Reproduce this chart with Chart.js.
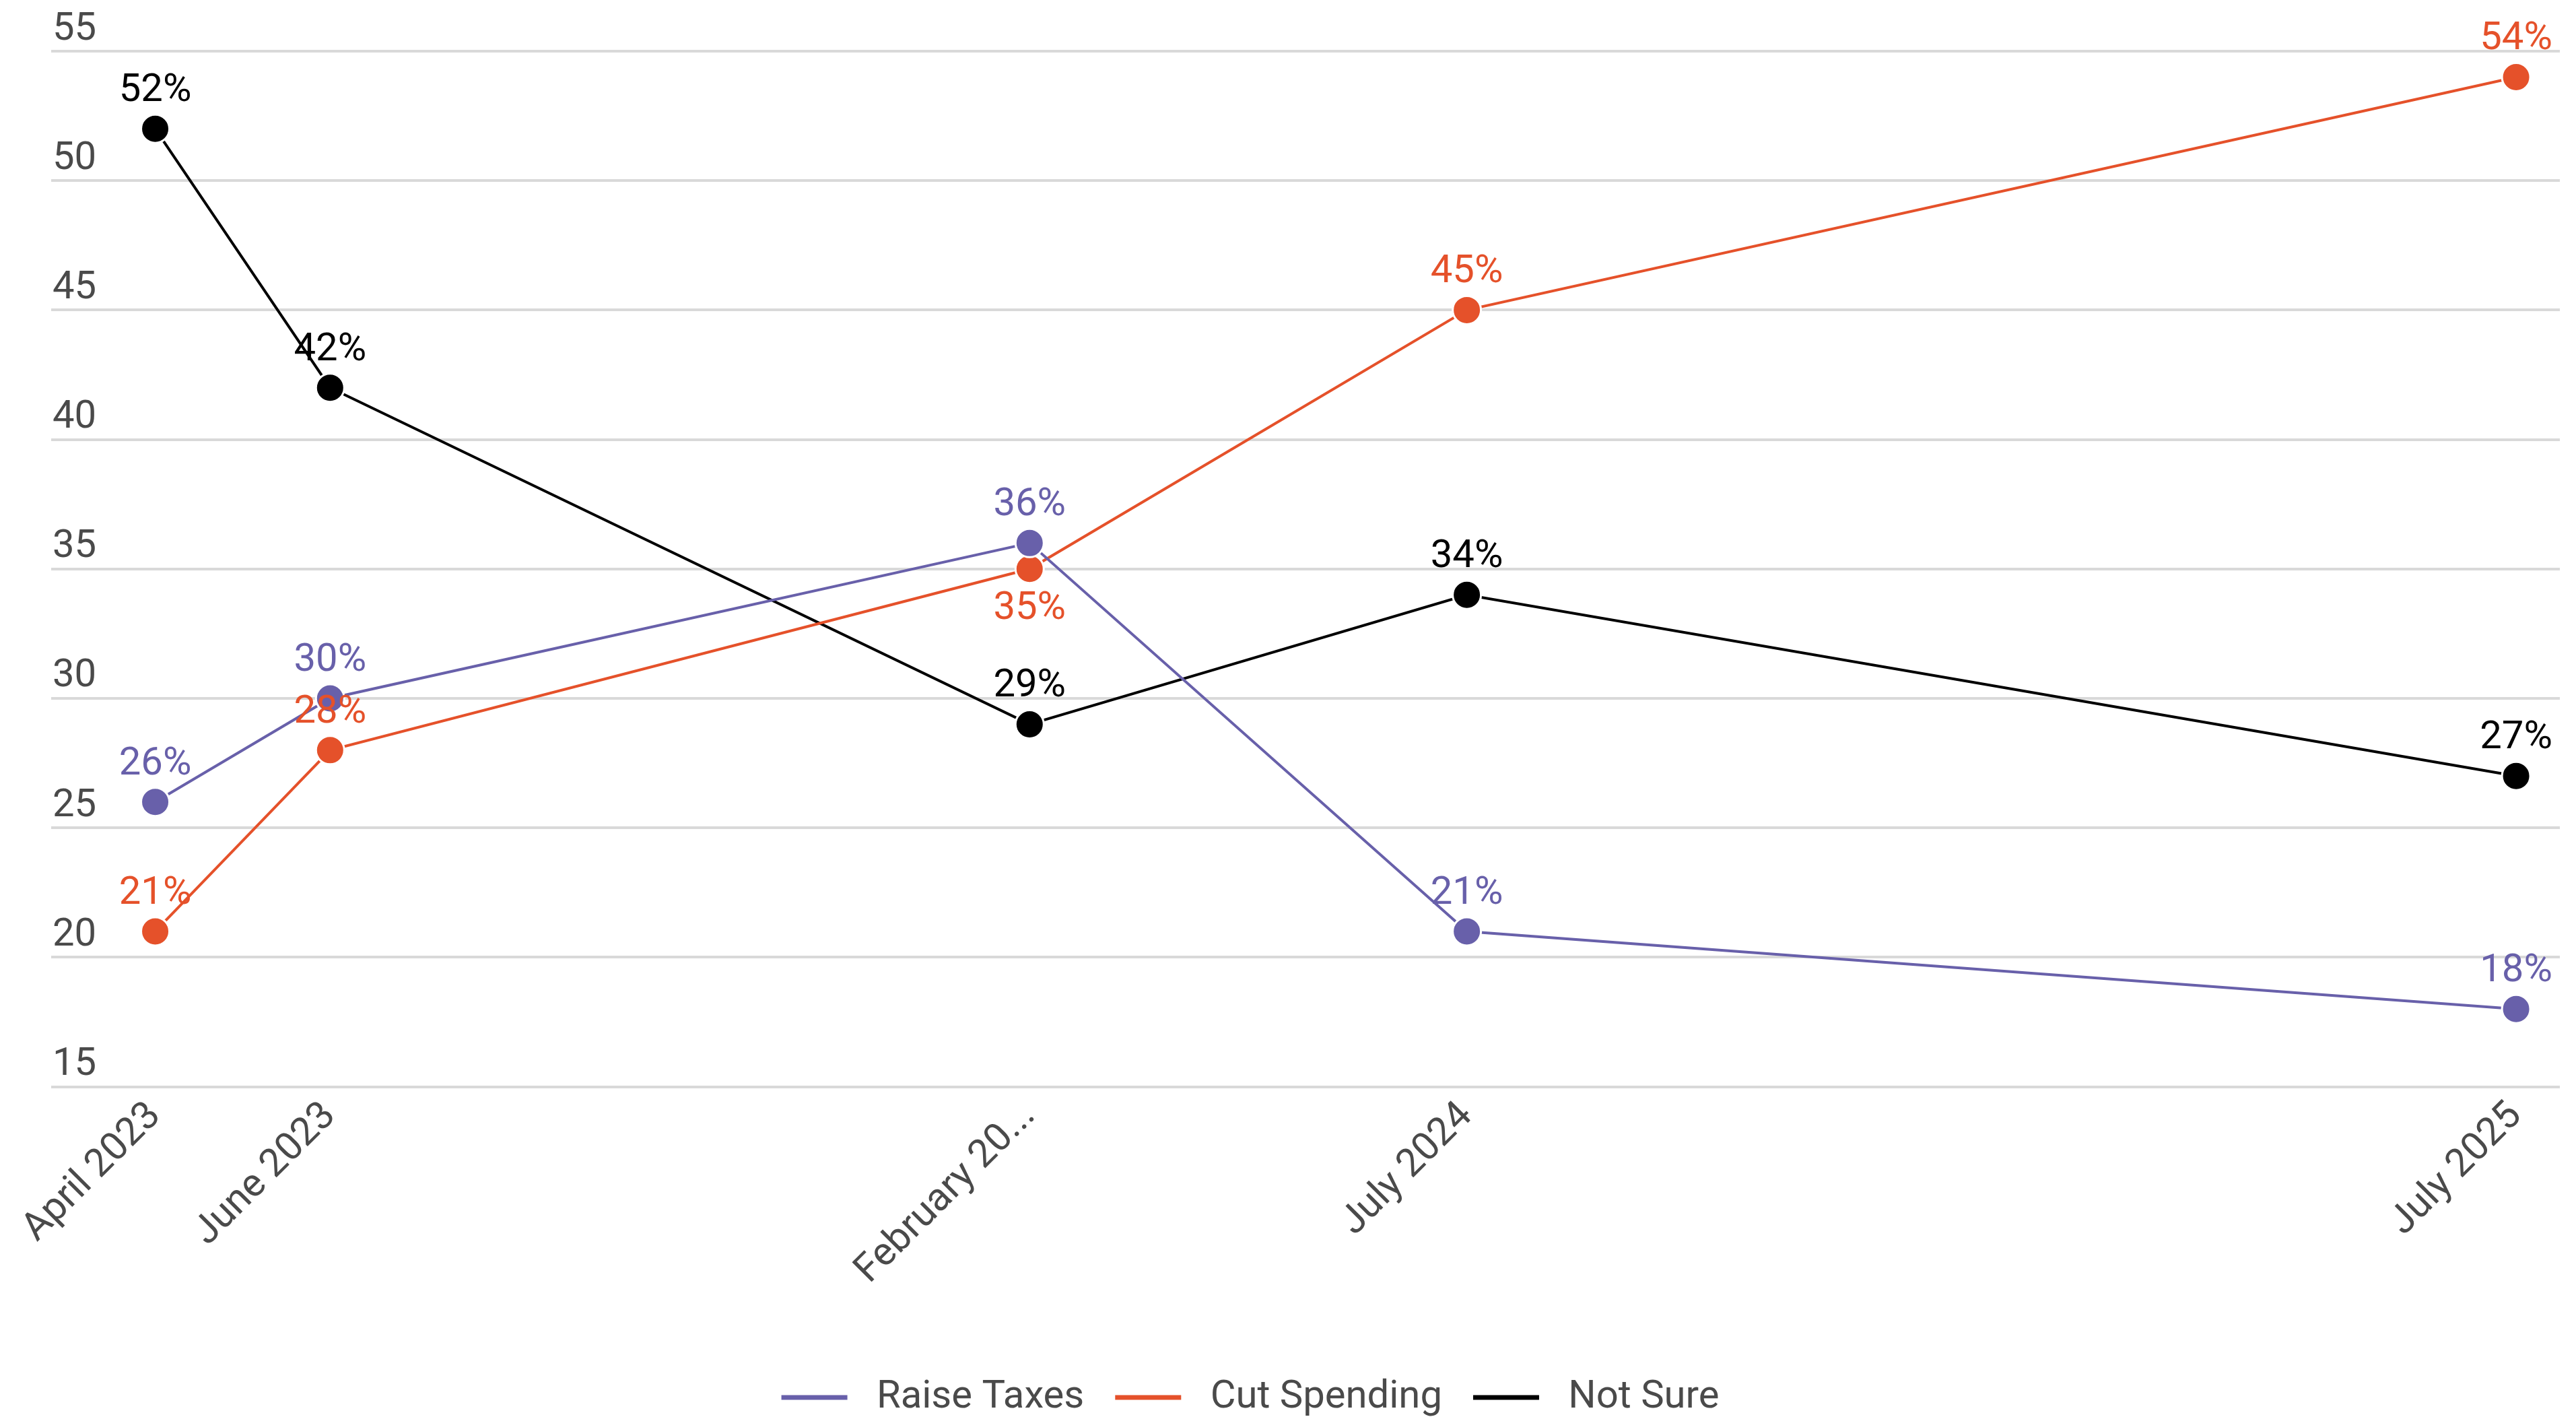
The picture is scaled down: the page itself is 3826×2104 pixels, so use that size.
<!DOCTYPE html>
<html>
<head>
<meta charset="utf-8">
<script src="https://cdn.jsdelivr.net/npm/chart.js@4.4.0/dist/chart.umd.min.js"></script>
<style>
  html, body { margin: 0; padding: 0; background: #fff; }
  #wrap { width: 3826px; height: 2104px; }
</style>
</head>
<body>
<div id="wrap"><canvas id="chart"></canvas></div>
<script>
// survey dates, and their position in months counted from April 2023
const dates = ['April 2023', 'June 2023', 'February 2024', 'July 2024', 'July 2025'];
const months = [0, 2, 10, 15, 27];

const raiseTaxes = [26, 30, 36, 21, 18];
const cutSpending = [21, 28, 35, 45, 54];
const notSure = [52, 42, 29, 34, 27];

const yTicks = [15, 20, 25, 30, 35, 40, 45, 50, 55];

const PURPLE = '#6860aa';
const ORANGE = '#e5512a';
const BLACK = '#000000';
const GREY_TEXT = '#4a4a4a';
const FONT = 'Roboto';

// labels that sit under their point instead of above it
const labelBelow = { 'Cut Spending': [2] };

function series(label, values, color) {
    return {
        label: label,
        data: values.map((v, i) => ({ x: months[i], y: v })),
        borderColor: color,
        backgroundColor: color,
        borderWidth: 4,
        pointRadius: 21,
        pointHoverRadius: 21,
        pointBackgroundColor: color,
        pointBorderColor: '#ffffff',
        pointBorderWidth: 3,
        tension: 0,
        fill: false,
    };
}

const pointLabels = {
    id: 'pointLabels',
    afterDatasetsDraw(chart) {
        const ctx = chart.ctx;
        ctx.save();
        ctx.font = '58px ' + FONT;
        ctx.textAlign = 'center';
        ctx.textBaseline = 'alphabetic';
        chart.data.datasets.forEach((ds, i) => {
            const meta = chart.getDatasetMeta(i);
            const below = labelBelow[ds.label] || [];
            meta.data.forEach((pt, j) => {
                ctx.fillStyle = ds.borderColor;
                const y = below.includes(j) ? pt.y + 74 : pt.y - 41;
                ctx.fillText(ds.data[j].y + '%', pt.x, y);
            });
        });
        ctx.restore();
    }
};

// the legend sits a little left of centre and slightly lower in the original
const legendShift = {
    id: 'legendShift',
    afterLayout(chart) {
        const lg = chart.legend;
        lg.left -= 83;
        lg.right -= 83;
        lg.top += 10;
        lg.bottom += 10;
    }
};

const chart = new Chart(document.getElementById('chart'), {
    type: 'line',
    data: {
        datasets: [
            series('Raise Taxes', raiseTaxes, PURPLE),
            series('Cut Spending', cutSpending, ORANGE),
            series('Not Sure', notSure, BLACK),
        ]
    },
    options: {
        responsive: true,
        maintainAspectRatio: false,
        animation: false,
        layout: {
            padding: { left: 72, right: 18, top: 76, bottom: 0 }
        },
        plugins: {
            tooltip: { enabled: false },
            legend: {
                position: 'bottom',
                labels: {
                    font: { family: FONT, size: 58 },
                    color: GREY_TEXT,
                    boxWidth: 98,
                    boxHeight: 7,
                    padding: 46,
                    generateLabels(c) {
                        return c.data.datasets.map((ds, i) => ({
                            text: ' ' + ds.label,
                            fillStyle: ds.borderColor,
                            strokeStyle: ds.borderColor,
                            lineWidth: 0,
                            fontColor: GREY_TEXT,
                            hidden: false,
                            datasetIndex: i,
                        }));
                    }
                }
            }
        },
        scales: {
            x: {
                type: 'linear',
                min: -1.19,
                max: 27.5,
                grid: { display: false, drawTicks: false },
                border: { display: false },
                afterBuildTicks(scale) {
                    scale.ticks = months.map(m => ({ value: m }));
                },
                afterFit(scale) {
                    scale.height += 59;
                },
                ticks: {
                    autoSkip: false,
                    minRotation: 45,
                    maxRotation: 45,
                    padding: 10,
                    color: GREY_TEXT,
                    font: { family: FONT, size: 58 },
                    callback(value) {
                        const name = dates[months.indexOf(value)] || '';
                        return name.length > 12 ? name.slice(0, 11) + '...' : name;
                    }
                }
            },
            y: {
                min: 15,
                max: 55,
                grid: { color: '#d9d9d9', lineWidth: 4, drawTicks: false },
                border: { display: false },
                afterBuildTicks(scale) {
                    scale.ticks = yTicks.map(v => ({ value: v }));
                },
                ticks: {
                    mirror: true,
                    padding: 2,
                    labelOffset: -32,
                    color: GREY_TEXT,
                    font: { family: FONT, size: 58 },
                }
            }
        }
    },
    plugins: [pointLabels, legendShift]
});
</script>
</body>
</html>
